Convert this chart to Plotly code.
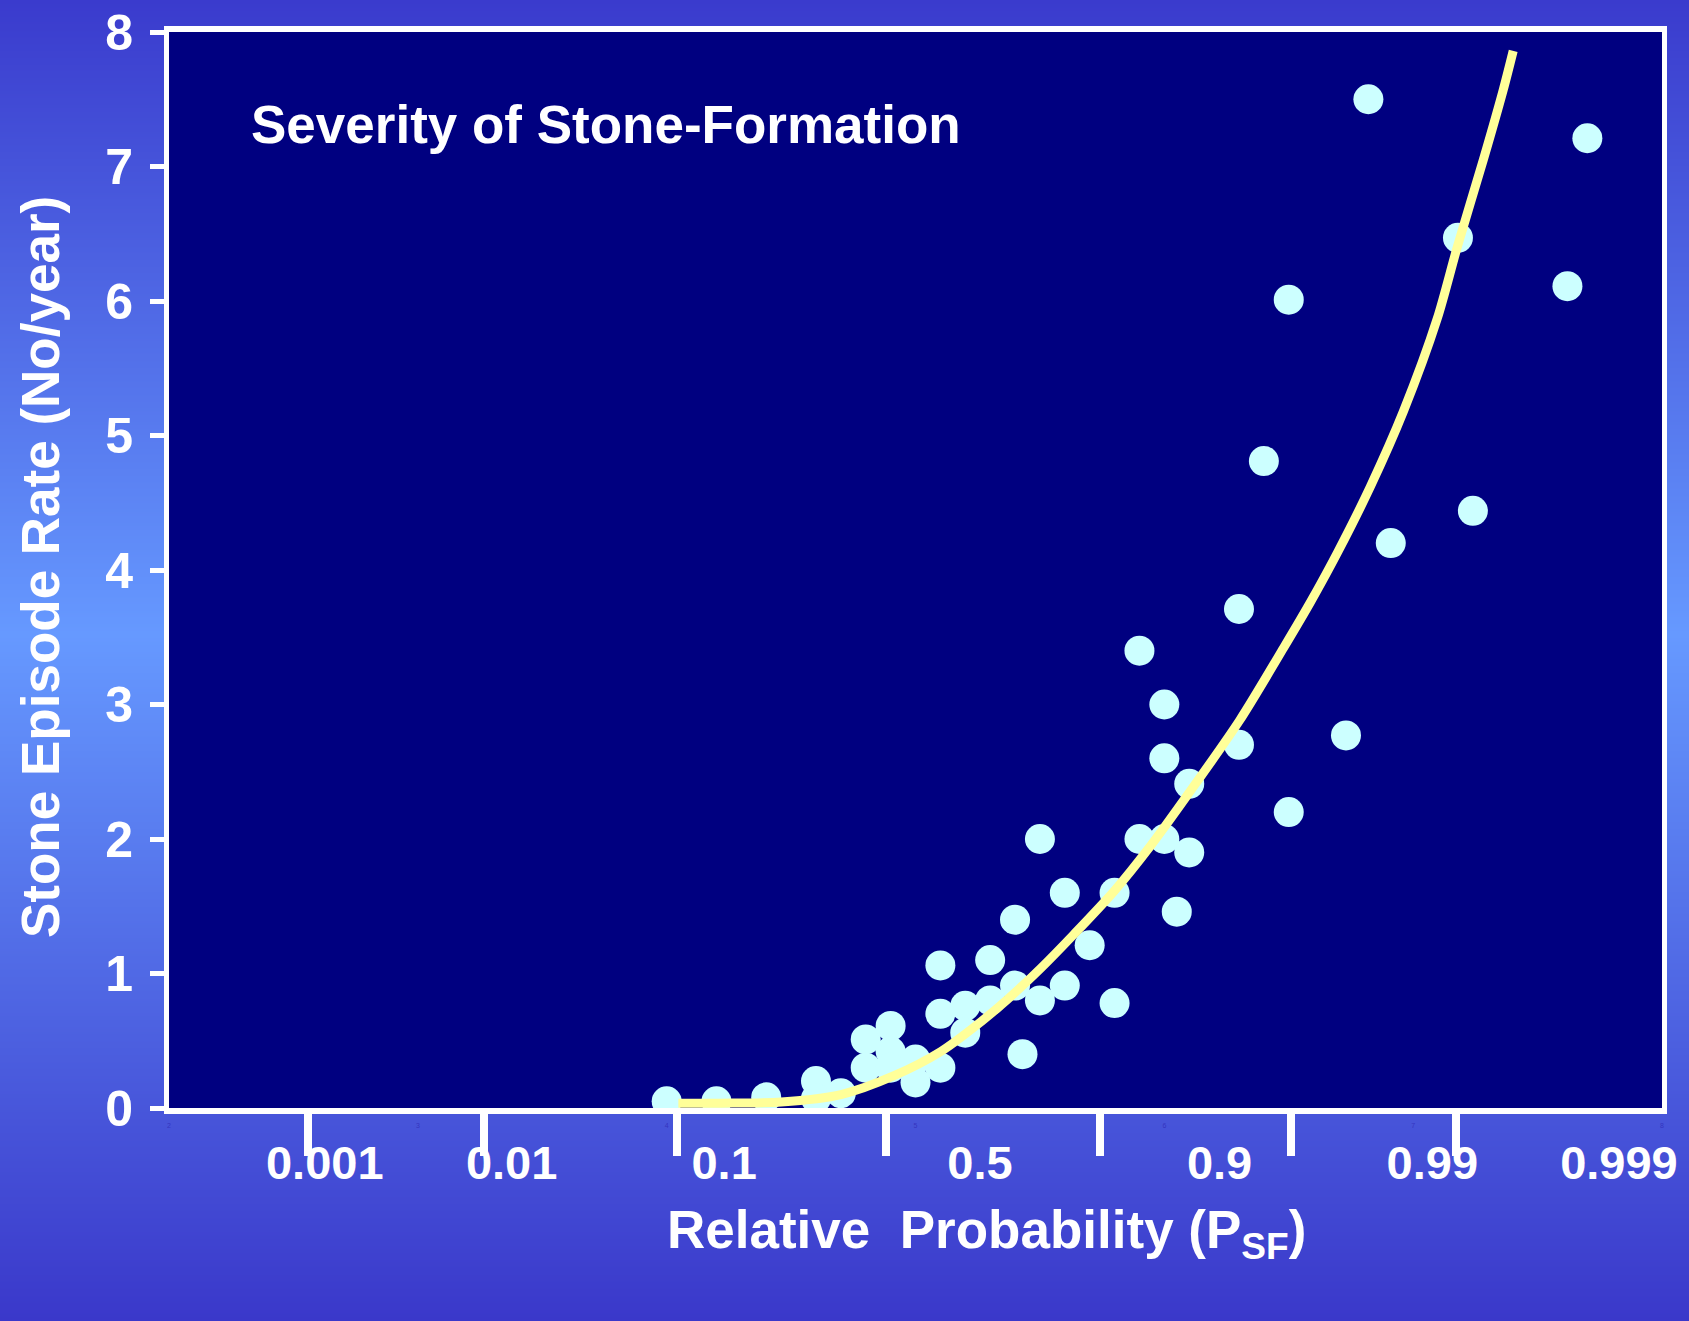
import base64
import struct
import zlib

import plotly.graph_objects as go

# ---- data -------------------------------------------------------------
# Horizontal positions are on the linear 2..8 working scale that carries
# the probability (P_SF) labels; vertical values are episodes per year.
stone_x = [4.00, 4.20, 4.40, 4.60, 4.60, 4.70, 4.80, 4.80, 4.90, 4.90,
           4.90, 5.00, 5.00, 5.10, 5.10, 5.10, 5.20, 5.20, 5.30, 5.30,
           5.40, 5.40, 5.43, 5.50, 5.50, 5.60, 5.60, 5.70, 5.80, 5.80,
           5.90, 5.90, 6.00, 6.00, 6.00, 6.05, 6.10, 6.10, 6.30, 6.30,
           6.40, 6.50, 6.50, 6.73, 6.82, 6.91, 7.18, 7.24, 7.62, 7.70]
stone_rate = [0.05, 0.05, 0.08, 0.20, 0.07, 0.11, 0.51, 0.30, 0.61, 0.42,
              0.30, 0.36, 0.19, 1.06, 0.70, 0.30, 0.76, 0.56, 1.10, 0.80,
              1.40, 0.91, 0.40, 2.00, 0.80, 1.60, 0.91, 1.21, 1.60, 0.78,
              3.40, 2.00, 3.00, 2.60, 2.00, 1.46, 2.41, 1.90, 3.71, 2.70,
              4.81, 6.01, 2.20, 2.77, 7.50, 4.20, 6.47, 4.44, 6.11, 7.21]

# fitted severity curve
fit_x = [4.047, 4.219, 4.460, 4.701, 4.914, 5.102, 5.235, 5.371, 5.504,
         5.636, 5.797, 5.945, 6.102, 6.302, 6.479, 6.587, 6.696, 6.828,
         6.961, 7.097, 7.177, 7.282, 7.362, 7.402]
fit_rate = [0.035, 0.036, 0.045, 0.10, 0.24, 0.42, 0.60, 0.81, 1.04,
            1.29, 1.61, 1.95, 2.35, 2.88, 3.42, 3.76, 4.13, 4.62,
            5.18, 5.87, 6.40, 7.05, 7.57, 7.86]

rate_ticks = [0, 1, 2, 3, 4, 5, 6, 7, 8]
scale_ticks = [2, 3, 4, 5, 6, 7, 8]
prob_tick_marks = [2.560, 3.266, 4.043, 4.882, 5.740, 6.511, 7.173]
prob_label_pos = [2.626, 3.377, 4.231, 5.259, 6.222, 7.077, 7.827]
prob_labels = ["0.001", "0.01", "0.1", "0.5", "0.9", "0.99", "0.999"]

# ---- page geometry ---------------------------------------------------
W, H = 1689, 1321
ML, MR, MT, MB = 169, 27, 32, 213
PW, PH = W - ML - MR, H - MT - MB

FONT = "Liberation Sans, Arial, Helvetica, sans-serif"
WHITE = "#ffffff"


def gradient_png(height, stops):
    """Tiny vertical-gradient PNG (2 px wide) as a data URI."""
    rows = []
    for i in range(height):
        t = i / (height - 1)
        for (t0, c0), (t1, c1) in zip(stops, stops[1:]):
            if t0 <= t <= t1:
                f = (t - t0) / (t1 - t0) if t1 > t0 else 0.0
                rows.append(bytes(round(a + (b - a) * f) for a, b in zip(c0, c1)))
                break
    raw = b"".join(b"\x00" + px * 2 for px in rows)

    def chunk(tag, data):
        return (struct.pack(">I", len(data)) + tag + data
                + struct.pack(">I", zlib.crc32(tag + data) & 0xFFFFFFFF))

    ihdr = struct.pack(">IIBBBBB", 2, height, 8, 2, 0, 0, 0)
    png = (b"\x89PNG\r\n\x1a\n" + chunk(b"IHDR", ihdr)
           + chunk(b"IDAT", zlib.compress(raw, 9)) + chunk(b"IEND", b""))
    return "data:image/png;base64," + base64.b64encode(png).decode()


background = gradient_png(H, [(0.0, (58, 59, 205)),
                              (0.48, (102, 153, 255)),
                              (1.0, (58, 56, 202))])

fig = go.Figure()

fig.add_trace(go.Scatter(
    x=stone_x, y=stone_rate, mode="markers",
    marker=dict(color="#ccffff", size=30, line=dict(width=0)),
    showlegend=False, hoverinfo="x+y",
))
fig.add_trace(go.Scatter(
    x=fit_x, y=fit_rate, mode="lines",
    line=dict(color="#ffff99", width=9, shape="spline", smoothing=0.8),
    showlegend=False, hoverinfo="skip",
))
# empty traces that bind the two label-only overlay axes
fig.add_trace(go.Scatter(x=[], y=[], xaxis="x2", yaxis="y", showlegend=False))
fig.add_trace(go.Scatter(x=[], y=[], xaxis="x3", yaxis="y", showlegend=False))

fig.update_layout(
    template="none",
    width=W, height=H, autosize=False,
    margin=dict(l=ML, r=MR, t=MT, b=MB, pad=0),
    paper_bgcolor="#5a7ff0",
    plot_bgcolor="rgba(0,0,0,0)",
    font=dict(family=FONT, color=WHITE),
    xaxis=dict(
        range=[2, 8], showgrid=False, zeroline=False, automargin=False,
        showline=True, linecolor=WHITE, linewidth=6, mirror=True,
        tickmode="array", tickvals=prob_tick_marks,
        ticks="outside", ticklen=42, tickwidth=8, tickcolor=WHITE,
        showticklabels=False, fixedrange=True,
    ),
    xaxis2=dict(
        overlaying="x", anchor="y", side="bottom", range=[2, 8],
        showgrid=False, zeroline=False, showline=False, automargin=False,
        tickmode="array", tickvals=scale_ticks,
        ticks="outside", ticklen=11, tickcolor="rgba(0,0,0,0)",
        tickfont=dict(size=7, color="#3535c0", family=FONT),
        fixedrange=True,
    ),
    xaxis3=dict(
        overlaying="x", anchor="y", side="bottom", range=[2, 8],
        showgrid=False, zeroline=False, showline=False, automargin=False,
        tickmode="array", tickvals=prob_label_pos, ticktext=prob_labels,
        ticks="outside", ticklen=14, tickcolor="rgba(0,0,0,0)",
        tickfont=dict(size=47, color=WHITE, family=FONT, weight="bold"),
        fixedrange=True,
    ),
    yaxis=dict(
        range=[0, 8], showgrid=False, zeroline=False, automargin=False,
        showline=True, linecolor=WHITE, linewidth=5, mirror=True,
        tickmode="array", tickvals=rate_ticks,
        ticks="outside", ticklen=14, tickwidth=5, tickcolor=WHITE,
        ticklabelstandoff=7,
        tickfont=dict(size=50, color=WHITE, family=FONT, weight="bold"),
        fixedrange=True,
    ),
    images=[dict(
        source=background, xref="paper", yref="paper",
        x=-ML / PW, y=1 + MT / PH, sizex=W / PW, sizey=H / PH,
        xanchor="left", yanchor="top", sizing="stretch", layer="below",
    )],
    shapes=[dict(
        type="rect", xref="paper", yref="paper", x0=0, x1=1, y0=0, y1=1,
        fillcolor="#000080", line=dict(width=0), layer="below",
    )],
    annotations=[
        dict(text="Severity of Stone-Formation", xref="paper", yref="paper",
             x=(249 - ML) / PW, y=(H - MB - 124) / PH,
             xanchor="left", yanchor="middle", showarrow=False,
             font=dict(size=53, color=WHITE, family=FONT, weight="bold")),
        dict(text="Stone Episode Rate (No/year)", xref="paper", yref="paper",
             x=(40 - ML) / PW, y=(H - MB - 567) / PH, textangle=-90,
             xanchor="center", yanchor="middle", showarrow=False,
             font=dict(size=53, color=WHITE, family=FONT, weight="bold")),
        dict(text="Relative\u00a0 Probability (P<sub>SF</sub>)",
             xref="paper", yref="paper",
             x=(986 - ML) / PW, y=(H - MB - 1233) / PH,
             xanchor="center", yanchor="middle", showarrow=False,
             font=dict(size=53, color=WHITE, family=FONT, weight="bold")),
    ],
)

fig.write_html("out.html")
